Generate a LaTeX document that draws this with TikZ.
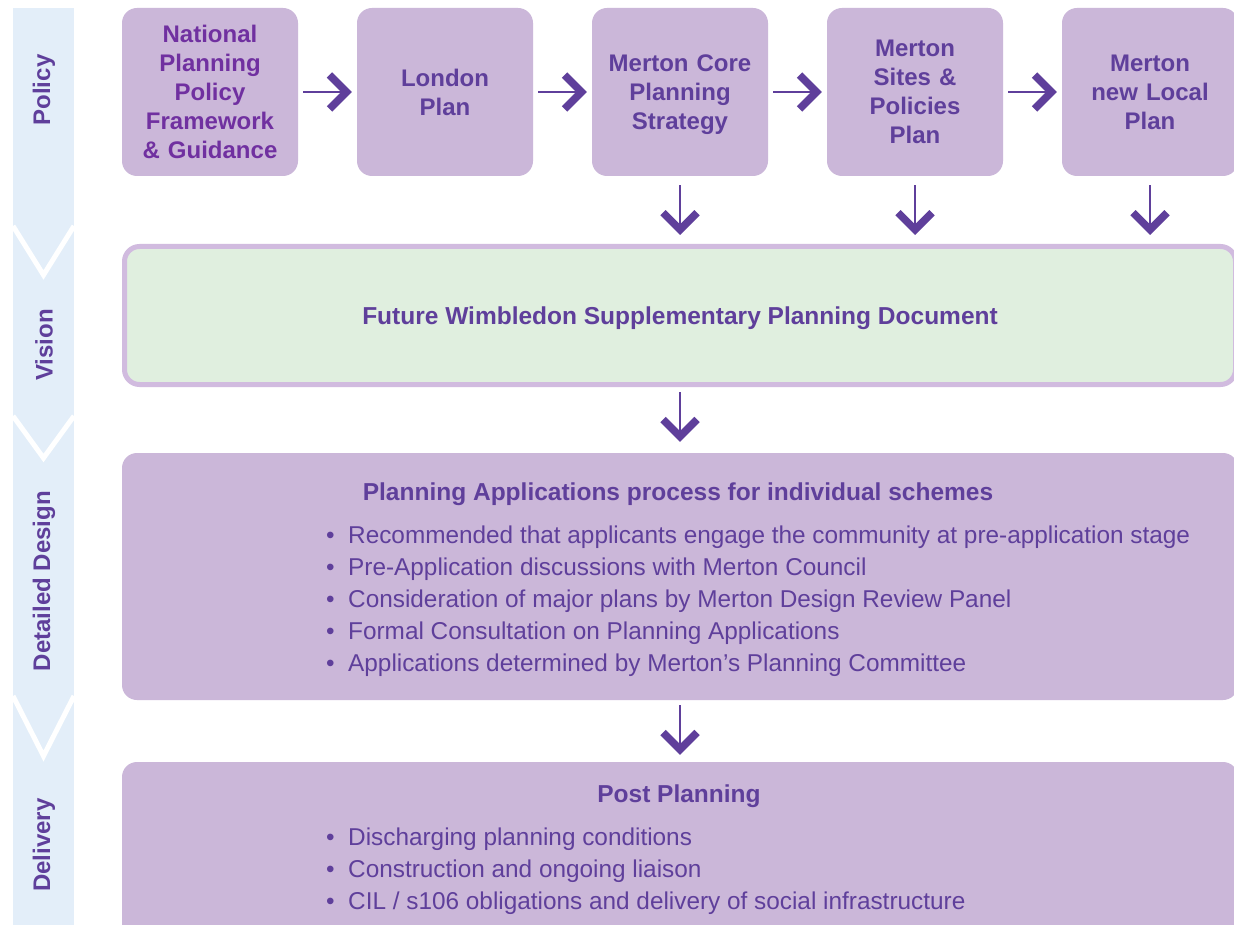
\documentclass[tikz,border=0pt]{standalone}
\usepackage{fontspec}
\setmainfont{Liberation Sans}
\usetikzlibrary{arrows.meta}
\definecolor{boxfill}{HTML}{CBB7D9}
\definecolor{boxline}{HTML}{D1BBDF}
\definecolor{greenfill}{HTML}{E0EFDF}
\definecolor{sidefill}{HTML}{E3EEF9}
\definecolor{txtA}{HTML}{7030A0}
\definecolor{txtB}{HTML}{5F3F9B}
\tikzset{
  topbox/.style={fill=boxfill, rounded corners=15pt, minimum width=176pt, minimum height=168pt,
    text width=170pt, align=center, inner sep=0pt, text=txtB,
    font=\fontsize{24}{29}\selectfont\bfseries},
  widebox/.style={fill=boxfill, rounded corners=15pt, minimum width=1116pt, inner sep=0pt},
  sidelabel/.style={rotate=90, text=txtB, font=\fontsize{24}{29}\selectfont\bfseries, inner sep=0pt},
  titletxt/.style={text=txtB, font=\fontsize{24.5}{29}\selectfont\bfseries, inner sep=0pt},
  bullettxt/.style={text=txtB, font=\fontsize{24.35}{29}\selectfont, inner sep=0pt, anchor=base west},
  chev/.style={draw=txtB, line width=2.6pt,
    -{Straight Barb[length=17pt,width=34pt,line width=7.5pt]}},
  vgap/.style={draw=white, line width=5pt, line join=miter},
}
\newcommand{\bul}[1]{\makebox[22pt][l]{\textbullet}#1}
\newcommand{\nodepth}[1]{\raisebox{0pt}[\height][0pt]{#1}}
\begin{document}
\begin{tikzpicture}[x=1pt,y=-1pt]
\useasboundingbox (0,0) rectangle (1234,925);
\clip (0,0) rectangle (1234,925);
\fill[white] (0,0) rectangle (1234,925);
% sidebar
\fill[sidefill] (13,8) rectangle (74,930);
\draw[vgap] (13,226) -- (43.5,275) -- (74,226);
\draw[vgap] (13,416) -- (43.5,458) -- (74,416);
\draw[vgap] (13,696) -- (43.5,756) -- (74,696);
\node[sidelabel] (lp) at (44,90) {Policy};
\node[sidelabel] (lv) at (44,345) {Vision};
\node[sidelabel] (ld) at (44,581) {Detailed Design};
\node[sidelabel] (ldl) at (44,845) {Delivery};
% top boxes
\node[topbox, text=txtA] (b1) at (210,92) {National\\Planning\\Policy\\Framework\\\& Guidance};
\node[topbox] (b2) at (445,92) {London\\Plan};
\node[topbox] (b3) at (680,92) {Merton Core\\Planning\\\nodepth{Strategy}};
\node[topbox] (b4) at (915,92) {Merton\\Sites \&\\Policies\\Plan};
\node[topbox] (b5) at (1150,92) {Merton\\new Local\\Plan};
% vision box
\node[widebox, fill=greenfill, draw=boxline, line width=5pt, minimum width=1111pt, minimum height=138pt] (vis) at (680,315.5) {};
\node[titletxt] (vist) at (680,318) {Future Wimbledon Supplementary Planning Document};
% detailed design box
\node[widebox, minimum height=247pt] (det) at (680,576.5) {};
\node[titletxt] (dett) at (678,494) {Planning Applications process for individual schemes};
\node[bullettxt] (d1) at (326,543.6) {\bul{Recommended that applicants engage the community at pre-application stage}};
\node[bullettxt] (d2) at (326,575.6) {\bul{Pre-Application discussions with Merton Council}};
\node[bullettxt] (d3) at (326,607.6) {\bul{Consideration of major plans by Merton Design Review Panel}};
\node[bullettxt] (d4) at (326,639.6) {\bul{Formal Consultation on Planning Applications}};
\node[bullettxt] (d5) at (326,671.6) {\bul{Applications determined by Merton’s Planning Committee}};
% delivery box
\node[widebox, minimum height=188pt] (del) at (680,856) {};
\node[titletxt] (delt) at (679,796) {Post Planning};
\node[bullettxt] (e1) at (326,845.6) {\bul{Discharging planning conditions}};
\node[bullettxt] (e2) at (326,877.6) {\bul{Construction and ongoing liaison}};
\node[bullettxt] (e3) at (326,909.6) {\bul{CIL / s106 obligations and delivery of social infrastructure}};
% arrows
\draw[chev, shorten <=5pt, shorten >=5pt] (b1) -- (b2);
\draw[chev, shorten <=5pt, shorten >=5pt] (b2) -- (b3);
\draw[chev, shorten <=5pt, shorten >=5pt] (b3) -- (b4);
\draw[chev, shorten <=5pt, shorten >=5pt] (b4) -- (b5);
\draw[chev, shorten <=9pt, shorten >=9pt] (b3.south) -- (b3.south |- vis.north);
\draw[chev, shorten <=9pt, shorten >=9pt] (b4.south) -- (b4.south |- vis.north);
\draw[chev, shorten <=9pt, shorten >=9pt] (b5.south) -- (b5.south |- vis.north);
\draw[chev, shorten <=5pt, shorten >=11pt] (vis.south) -- (det.north);
\draw[chev, shorten <=5pt, shorten >=7pt] (det.south) -- (del.north);
\end{tikzpicture}
\end{document}
